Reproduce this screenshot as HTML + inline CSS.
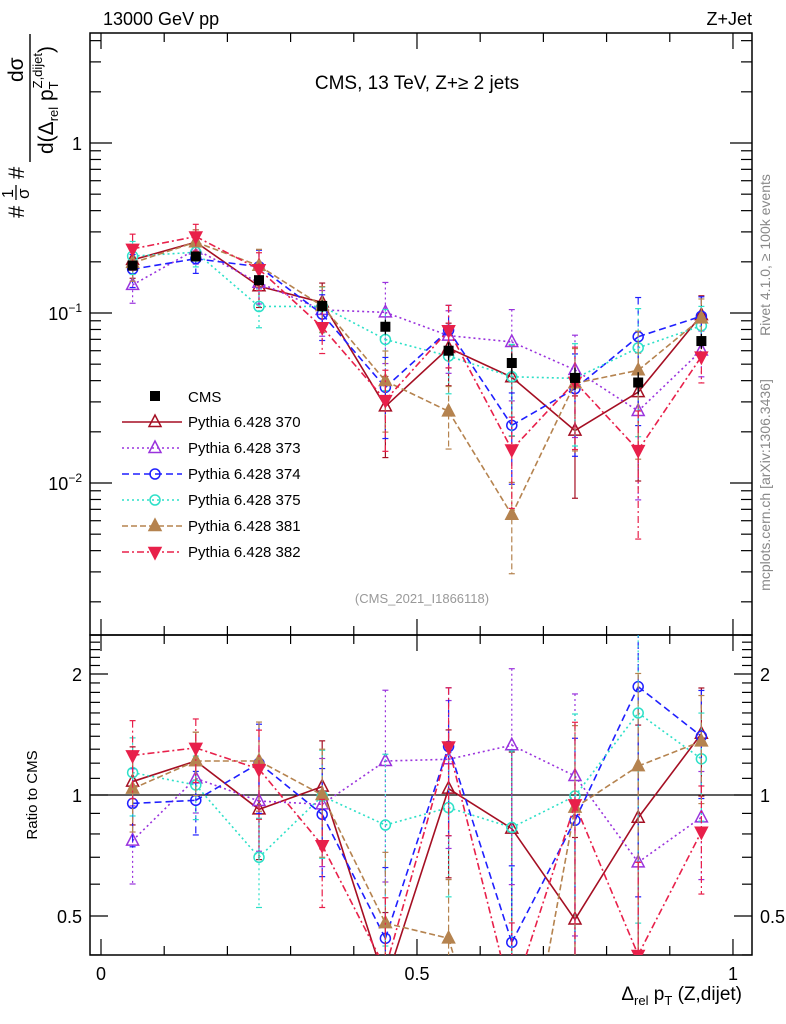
<!DOCTYPE html>
<html><head><meta charset="utf-8"><style>
html,body{margin:0;padding:0;background:#fff;overflow:hidden;width:786px;height:1024px}
svg{display:block;font-family:"Liberation Sans","DejaVu Sans",sans-serif}
</style></head><body>
<svg id="c" width="786" height="1024" viewBox="0 0 786 1024" xmlns="http://www.w3.org/2000/svg">
<defs>
<clipPath id="cm"><rect x="90" y="33" width="662" height="602"/></clipPath>
<clipPath id="cr"><rect x="90" y="635" width="662" height="320"/></clipPath>
</defs>
<g id="axes"></g>
<g id="main" clip-path="url(#cm)"></g>
<g id="ratio" clip-path="url(#cr)"></g>
<text x="103" y="25" font-size="18">13000 GeV pp</text>
<text x="752" y="25" font-size="18" text-anchor="end">Z+Jet</text>
<text x="417" y="89" font-size="19" text-anchor="middle">CMS, 13 TeV, Z+≥ 2 jets</text>
<text x="422" y="603" font-size="13" fill="#999" text-anchor="middle">(CMS_2021_I1866118)</text>
<text transform="translate(770,255) rotate(-90)" font-size="14" fill="#888" text-anchor="middle">Rivet 4.1.0, ≥ 100k events</text>
<text transform="translate(770,485) rotate(-90)" font-size="14" fill="#888" text-anchor="middle">mcplots.cern.ch [arXiv:1306.3436]</text>
<g transform="translate(0,220) rotate(-90)">
<text x="2" y="24" font-size="22">#</text>
<text x="22" y="13" font-size="16">1</text>
<line x1="20" x2="35" y1="16" y2="16" stroke="#000" stroke-width="1.3"/>
<text x="21" y="29" font-size="17">σ</text>
<text x="41" y="24" font-size="22">#</text>
<line x1="58" x2="186" y1="30" y2="30" stroke="#000" stroke-width="1.4"/>
<text x="138" y="23" font-size="21">dσ</text>
<text x="66" y="53" font-size="21">d(Δ<tspan font-size="13" dy="5">rel</tspan><tspan dy="-5"> p</tspan><tspan font-size="13" dy="5">T</tspan><tspan font-size="13" dx="-7" dy="-16">Z,dijet</tspan><tspan dy="11">)</tspan></text>
</g>
<text transform="translate(37,795) rotate(-90)" font-size="15" text-anchor="middle">Ratio to CMS</text>
<text x="742" y="1000" font-size="19" text-anchor="end">Δ<tspan font-size="13" dy="5">rel</tspan><tspan dy="-5"> p</tspan><tspan font-size="13" dy="5">T</tspan><tspan dy="-5"> (Z,dijet)</tspan></text>
<g id="legend"></g>
</svg>
<script>
const bins = [0.05,0.15,0.25,0.35,0.45,0.55,0.65,0.75,0.85,0.95];
const cmsVals = [0.19,0.215,0.156,0.11,0.083,0.06,0.0508,0.0415,0.039,0.0684];
const cmsErr = [0.06,0.06,0.07,0.08,0.1,0.12,0.14,0.15,0.15,0.1];
const r370 = [1.08,1.215,0.921,1.049,0.34,1.037,0.825,0.49,0.878,1.42];
const r373 = [0.77,1.10,0.966,0.948,1.215,1.227,1.33,1.115,0.68,0.88];
const r374 = [0.953,0.97,1.20,0.895,0.44,1.32,0.43,0.865,1.86,1.40];
const r375 = [1.137,1.059,0.70,0.994,0.842,0.93,0.83,0.994,1.6,1.23];
const r381 = [1.037,1.215,1.215,1.0,0.48,0.44,0.128,0.93,1.18,1.36];
const r382 = [1.255,1.31,1.16,0.75,0.37,1.32,0.31,0.948,0.40,0.81];
const mcErr = [0.22,0.18,0.25,0.3,0.5,0.4,0.55,0.6,0.7,0.3];
const seriesNames = ["Pythia 6.428 370","Pythia 6.428 373","Pythia 6.428 374","Pythia 6.428 375","Pythia 6.428 381","Pythia 6.428 382"];

const NS="http://www.w3.org/2000/svg";
function mk(p,tag,at){const e=document.createElementNS(NS,tag);for(const k in at)e.setAttribute(k,at[k]);p.appendChild(e);return e;}
const X0=-0.0174,X1=1.0301,PL=90,PR=752;
const clamp=(y,a,b)=>Math.max(a,Math.min(b,y));
const xs=v=>PL+(v-X0)/(X1-X0)*(PR-PL);
const ymRaw=v=>143-170*Math.log10(v);
const yrRaw=v=>795-121*Math.log2(v);
const ym=v=>clamp(ymRaw(v),20,650);
const yr=v=>clamp(yrRaw(v),620,970);
const axes=document.getElementById('axes');
let f=mk(axes,'rect',{x:90,y:33,width:662,height:602,fill:'none',stroke:'#000','stroke-width':1.5});

f=mk(axes,'rect',{x:90,y:635,width:662,height:320,fill:'none',stroke:'#000','stroke-width':1.5});

const g=mk(axes,'g',{stroke:'#000','stroke-width':1.2});
for(let i=0;i<=10;i++){const v=i/10,x=xs(v),L=(i%5==0)?16:9;
 mk(g,'line',{x1:x,y1:635,x2:x,y2:635-L});mk(g,'line',{x1:x,y1:33,x2:x,y2:33+L});
 mk(g,'line',{x1:x,y1:955,x2:x,y2:955-L});mk(g,'line',{x1:x,y1:635,x2:x,y2:635+L});}
[[0,'0'],[0.5,'0.5'],[1,'1']].forEach(([v,t])=>{const e=mk(axes,'text',{x:xs(v),y:980,'font-size':18,'text-anchor':'middle'});e.textContent=t;
 });
for(let d=-3;d<=0;d++)for(let m=1;m<=9;m++){const v=m*Math.pow(10,d),y=ymRaw(v);if(y<33||y>635)continue;const L=m==1?22:11;
 mk(g,'line',{x1:90,y1:y,x2:90+L,y2:y});mk(g,'line',{x1:752,y1:y,x2:752-L,y2:y});}
[[1,'1',''],[0.1,'10','−1'],[0.01,'10','−2']].forEach(([v,t,s])=>{const e=mk(axes,'text',{x:82,y:ym(v)+7,'font-size':18,'text-anchor':'end'});
 e.textContent=t;if(s){const ts=mk(e,'tspan',{'font-size':12,dy:-8});ts.textContent=s;}
 });
for(let k=4;k<=25;k++){const v=k/10,y=yrRaw(v);if(y<635||y>955)continue;const L=(k==5||k==10||k==20)?18:10;
 mk(g,'line',{x1:90,y1:y,x2:90+L,y2:y});mk(g,'line',{x1:752,y1:y,x2:752-L,y2:y});}
[[0.5,'0.5'],[1,'1'],[2,'2']].forEach(([v,t])=>{[[82,'end'],[760,'start']].forEach(([x,a])=>{const e=mk(axes,'text',{x:x,y:yr(v)+7,'font-size':18,'text-anchor':a});e.textContent=t;
 });});
mk(axes,'line',{x1:90,x2:752,y1:yr(1),y2:yr(1),stroke:'#000','stroke-width':1.3});

const styles=[
 {c:'#a50f23',d:'',m:'tri',fill:false},
 {c:'#9a33dd',d:'2,3',m:'tri',fill:false},
 {c:'#1f1fff',d:'7,4',m:'circ',fill:false},
 {c:'#2de0c8',d:'2,3',m:'circ',fill:false},
 {c:'#b5834f',d:'6,3',m:'tri',fill:true},
 {c:'#e8204a',d:'7,3,2,3',m:'tridown',fill:true}];
const ratios=[r370,r373,r374,r375,r381,r382];
function marker(p,s,x,y){
 const at={fill:s.fill?s.c:'none',stroke:s.c,'stroke-width':1.5};
 if(s.m=='circ')return mk(p,'circle',Object.assign({cx:x,cy:y,r:5},at));
 if(s.m=='tri')return mk(p,'polygon',Object.assign({points:`${x},${y-7} ${x-6},${y+4.5} ${x+6},${y+4.5}`},at));
 return mk(p,'polygon',Object.assign({points:`${x},${y+7} ${x-6},${y-4.5} ${x+6},${y-4.5}`},at));
}
// clip a segment to y in [a,b]
function clipSeg(p,q,a,b){
 let [x1,y1]=p,[x2,y2]=q;
 const cut=(xa,ya,xb,yb,yl)=>[xa+(xb-xa)*(yl-ya)/(yb-ya),yl];
 if((y1<a&&y2<a)||(y1>b&&y2>b))return null;
 if(y1>b){[x1,y1]=cut(x1,y1,x2,y2,b);} if(y1<a){[x1,y1]=cut(x1,y1,x2,y2,a);}
 if(y2>b){[x2,y2]=cut(x2,y2,x1,y1,b);} if(y2<a){[x2,y2]=cut(x2,y2,x1,y1,a);}
 return [x1,y1,x2,y2];
}
const mainG=document.getElementById('main'),ratG=document.getElementById('ratio');
function series(p,vals,errs,yf,yraw,lim,s,name){
 const gg=mk(p,'g',{});
 const pts=vals.map((v,i)=>[xs(bins[i]),yraw(v)]);
 vals.forEach((v,i)=>{const x=xs(bins[i]),lo=Math.max(v*(1-errs[i]),1e-4),hi=v*(1+errs[i]);
  mk(gg,'line',{x1:x,x2:x,y1:yf(hi),y2:yf(lo),stroke:s.c,'stroke-width':1.2,'stroke-dasharray':s.d});
  mk(gg,'line',{x1:x-3,x2:x+3,y1:yf(hi),y2:yf(hi),stroke:s.c,'stroke-width':1.2});
  mk(gg,'line',{x1:x-3,x2:x+3,y1:yf(lo),y2:yf(lo),stroke:s.c,'stroke-width':1.2});});
 let d='';
 for(let i=0;i<pts.length-1;i++){const c=clipSeg(pts[i],pts[i+1],lim[0],lim[1]);if(c)d+=`M${c[0]},${c[1]}L${c[2]},${c[3]}`;}
 mk(gg,'path',{d:d,fill:'none',stroke:s.c,'stroke-width':1.6,'stroke-dasharray':s.d});
 pts.forEach(q=>{if(q[1]>=lim[0]&&q[1]<=lim[1])marker(gg,s,q[0],q[1]);});
}
ratios.forEach((r,k)=>{
 const mv=r.map((v,i)=>v*cmsVals[i]);
 series(mainG,mv,mcErr,ym,ymRaw,[20,650],styles[k],'series-'+seriesNames[k].split(' ')[2]);
 series(ratG,r,mcErr,yr,yrRaw,[620,970],styles[k],'ratio-series-'+seriesNames[k].split(' ')[2]);
});
const cg=mk(mainG,'g',{});
cmsVals.forEach((v,i)=>{const x=xs(bins[i]),y=ym(v);
 mk(cg,'line',{x1:x,x2:x,y1:ym(v*(1+cmsErr[i])),y2:ym(v*(1-cmsErr[i])),stroke:'#000','stroke-width':1.3});
 mk(cg,'rect',{x:x-5,y:y-5,width:10,height:10,fill:'#000'});});
const lg=document.getElementById('legend');
const le0=mk(lg,'g',{});
mk(le0,'rect',{x:150,y:391,width:10,height:10,fill:'#000'});
let t=mk(le0,'text',{x:188,y:402,'font-size':15});t.textContent='CMS';
seriesNames.forEach((n,k)=>{const y=422+k*26,s=styles[k];
 const e=mk(lg,'g',{});
 mk(e,'line',{x1:122,x2:182,y1:y,y2:y,stroke:s.c,'stroke-width':1.6,'stroke-dasharray':s.d});
 marker(e,s,155,y);
 const tt=mk(e,'text',{x:188,y:y+5,'font-size':15});tt.textContent=n;});
</script>
</body></html>
